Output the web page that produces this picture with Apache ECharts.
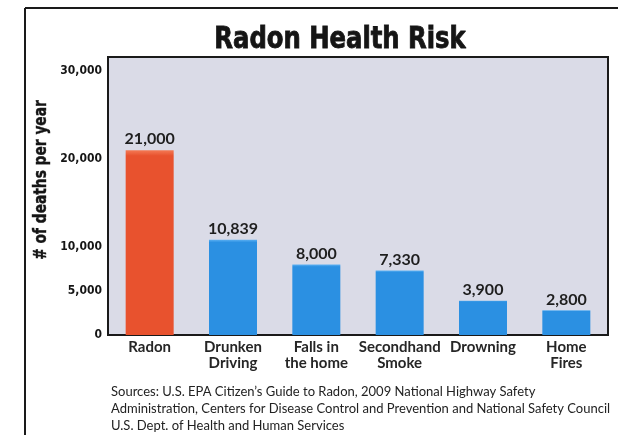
<!DOCTYPE html>
<html>
<head>
<meta charset="utf-8">
<script src="https://cdn.jsdelivr.net/npm/echarts@6/dist/echarts.min.js"></script>
<style>
html,body{margin:0;padding:0;background:#fff;}
#chart{width:618px;height:435px;}
</style>
</head>
<body>
<div id="chart"></div>
<script>
const categories = ['Radon', 'Drunken\nDriving', 'Falls in\nthe home', 'Secondhand\nSmoke', 'Drowning', 'Home\nFires'];
const deaths = [21000, 10839, 8000, 7330, 3900, 2800];
const yTicks = [0, 5000, 10000, 20000, 30000];
const titleText = 'Radon Health Risk';
const yName = '# of deaths per year';
const sourceLines = [
  'Sources: U.S. EPA Citizen\u2019s Guide to Radon, 2009 National Highway Safety',
  'Administration, Centers for Disease Control and Prevention and National Safety Council',
  'U.S. Dept. of Health and Human Services'
];

const condensed = "'DejaVu Sans Condensed', 'DejaVu Sans', sans-serif";
const humanist = "Lato, 'Open Sans', 'Noto Sans', sans-serif";

function grad(top, body) {
  return new echarts.graphic.LinearGradient(0, 0, 0, 1, [
    {offset: 0, color: top}, {offset: 0.03, color: body}, {offset: 1, color: body}
  ]);
}

const chart = echarts.init(document.getElementById('chart'), null, {renderer: 'canvas'});
chart.setOption({
  animation: false,
  backgroundColor: '#ffffff',
  grid: {
    left: 108, right: 10, top: 57, bottom: 100,
    show: true, backgroundColor: '#dadbe7', borderColor: '#1a1a1a', borderWidth: 2
  },
  xAxis: {
    type: 'category',
    data: categories,
    axisLine: {show: false},
    axisTick: {show: false},
    axisLabel: {
      interval: 0, margin: 4, lineHeight: 16,
      fontFamily: humanist, fontWeight: 'bold', fontSize: 15, color: '#262626'
    }
  },
  yAxis: {
    type: 'value',
    min: 0, max: 31600,
    splitLine: {show: false},
    axisLine: {show: false},
    axisTick: {show: false},
    axisLabel: {
      customValues: yTicks,
      margin: 6,
      fontFamily: condensed, fontWeight: 'bold', fontSize: 12, color: '#151515',
      formatter: v => v.toLocaleString('en-US')
    }
  },
  series: [{
    type: 'bar',
    data: deaths.map((v, i) => ({
      value: v,
      itemStyle: {color: i === 0 ? grad('#f47a55', '#e8522e') : grad('#5cb0f2', '#2b90e2')}
    })),
    barWidth: 48,
    label: {
      show: true, position: 'top', distance: 3,
      fontFamily: humanist, fontWeight: 'bold', fontSize: 16, color: '#1e1e1e',
      formatter: p => p.value.toLocaleString('en-US')
    }
  }],
  graphic: [
    {type: 'line', shape: {x1: 25, y1: 8, x2: 618, y2: 8}, style: {stroke: '#1a1a1a', lineWidth: 2}},
    {type: 'line', shape: {x1: 25, y1: 8, x2: 25, y2: 435}, style: {stroke: '#1a1a1a', lineWidth: 2}},
    {
      type: 'text', x: 340, y: 40, scaleX: 0.9,
      style: {
        text: titleText, align: 'center', verticalAlign: 'middle',
        font: "bold 30px 'DejaVu Sans Condensed', 'DejaVu Sans', sans-serif",
        fill: '#151515', stroke: '#151515', lineWidth: 0.8
      }
    },
    {
      type: 'text', x: 42, y: 180, rotation: Math.PI / 2, scaleX: 0.9,
      style: {
        text: yName, align: 'center', verticalAlign: 'middle',
        font: "bold 17px 'DejaVu Sans Condensed', 'DejaVu Sans', sans-serif",
        fill: '#151515', stroke: '#151515', lineWidth: 0.4
      }
    },
    ...sourceLines.map((t, i) => ({
      type: 'text', left: 111, top: 385 + i * 17,
      style: {text: t, fontFamily: humanist, fontSize: 13, fill: '#222'}
    }))
  ]
});
</script>
</body>
</html>
